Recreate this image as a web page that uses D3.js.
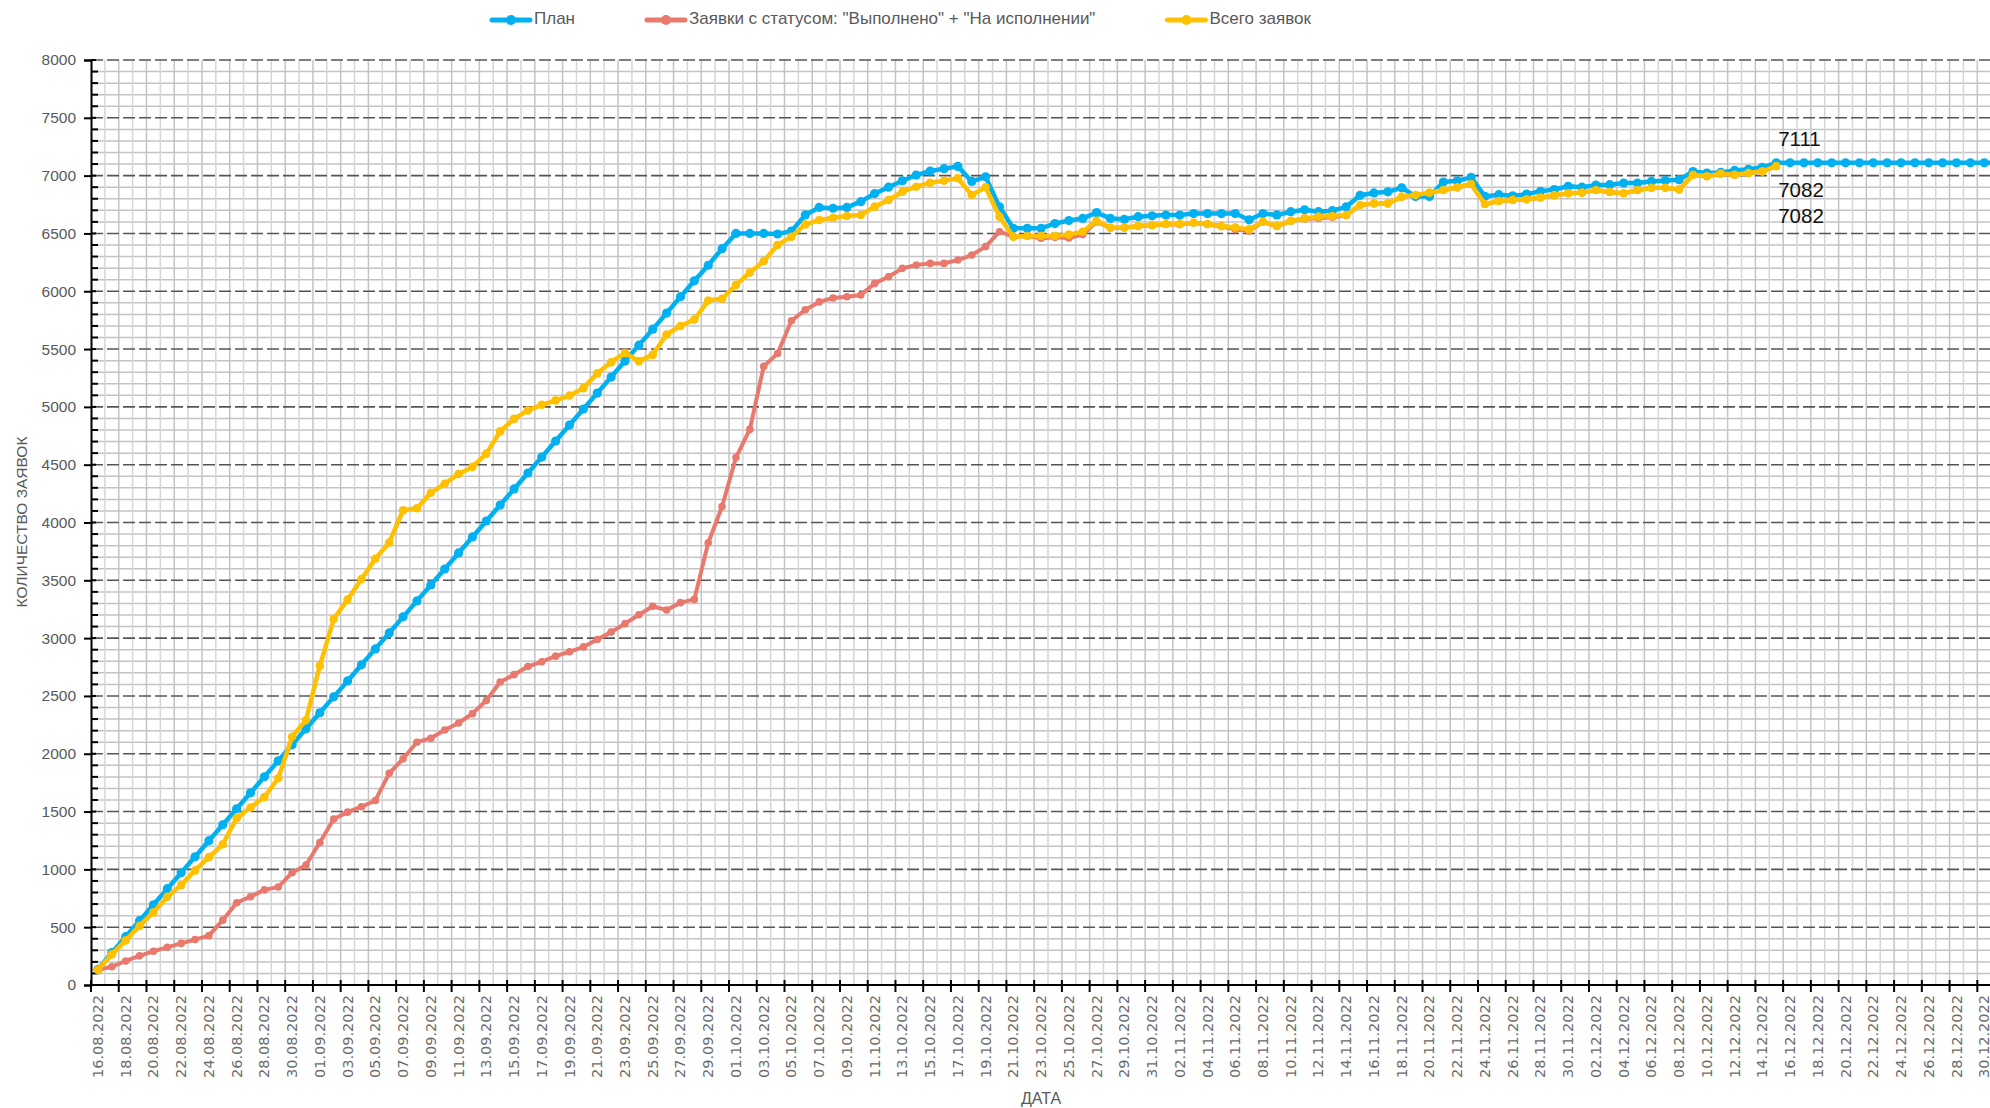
<!DOCTYPE html>
<html>
<head>
<meta charset="utf-8">
<script src="https://cdn.jsdelivr.net/npm/d3@7"></script>
<style>
    body { margin: 0; background: #fff; }
    svg { display: block; }
</style>
</head>
<body>
<svg id="chart" width="1990" height="1108"></svg>
<script>
// categories: every day from 16.08.2022 to 31.12.2022
const dates = d3.timeDay.range(new Date(2022, 7, 16), new Date(2023, 0, 1))
    .map(d3.timeFormat("%d.%m.%Y"));

const seriesNames = ["План", "Заявки с статусом: \"Выполнено\" + \"На исполнении\"", "Всего заявок"];

// План
const plan = [
    135, 280, 418, 556, 694, 833, 971, 1109, 1248, 1386,
    1524, 1662, 1801, 1939, 2077, 2216, 2354, 2492, 2630, 2769,
    2907, 3045, 3184, 3322, 3460, 3598, 3737, 3875, 4013, 4151,
    4290, 4428, 4566, 4705, 4843, 4981, 5119, 5258, 5396, 5534,
    5672, 5811, 5953, 6090, 6225, 6368, 6500, 6500, 6500, 6495,
    6520, 6660, 6725, 6718, 6725, 6775, 6845, 6900, 6955, 7005,
    7040, 7060, 7080, 6950, 6990, 6730, 6545, 6545, 6545, 6585,
    6612, 6630, 6680, 6630, 6622, 6645, 6653, 6659, 6659, 6672,
    6672, 6672, 6672, 6618, 6672, 6660, 6688, 6705, 6688, 6697,
    6730, 6830, 6850, 6860, 6895, 6820, 6820, 6945, 6955, 6985,
    6820, 6835, 6825, 6840, 6865, 6880, 6908, 6900, 6918, 6922,
    6936, 6936, 6950, 6958, 6965, 7035, 7022, 7028, 7045, 7055,
    7072, 7111, 7111, 7111, 7111, 7111, 7111, 7111, 7111, 7111,
    7111, 7111, 7111, 7111, 7111, 7111, 7111, 7111
];

// Заявки с статусом "Выполнено" + "На исполнении"
const done = [
    131, 158, 208, 252, 292, 326, 360, 393, 427, 561,
    712, 763, 823, 847, 971, 1038, 1233, 1435, 1495, 1542,
    1596, 1831, 1956, 2100, 2134, 2205, 2266, 2347, 2460, 2620,
    2684, 2754, 2796, 2844, 2882, 2924, 2988, 3052, 3125, 3202,
    3275, 3243, 3307, 3335, 3825, 4138, 4562, 4805, 5350, 5461,
    5745, 5840, 5908, 5942, 5953, 5968, 6068, 6126, 6198, 6227,
    6241, 6241, 6270, 6313, 6386, 6515, 6472, 6478, 6458, 6466,
    6460, 6490, 6600, 6548, 6550, 6562, 6570, 6578, 6578, 6590,
    6578, 6560, 6535, 6522, 6598, 6562, 6606, 6625, 6632, 6640,
    6655, 6744, 6758, 6758, 6815, 6830, 6850, 6873, 6896, 6925,
    6752, 6778, 6788, 6794, 6809, 6829, 6845, 6851, 6874, 6857,
    6845, 6874, 6893, 6893, 6879, 7005, 6992, 7015, 7006, 7021,
    7035, 7082
];

// Всего заявок
const total = [
    131, 265, 386, 511, 628, 763, 864, 991, 1106, 1217,
    1442, 1535, 1626, 1788, 2147, 2292, 2762, 3165, 3333, 3511,
    3686, 3827, 4106, 4123, 4257, 4335, 4420, 4481, 4596, 4788,
    4896, 4970, 5018, 5056, 5098, 5162, 5290, 5386, 5466, 5396,
    5450, 5626, 5700, 5755, 5920, 5935, 6055, 6162, 6260, 6400,
    6472, 6578, 6616, 6636, 6651, 6659, 6732, 6789, 6861, 6904,
    6939, 6956, 6977, 6832, 6899, 6645, 6472, 6478, 6478, 6478,
    6490, 6514, 6610, 6552, 6552, 6564, 6572, 6581, 6581, 6592,
    6581, 6564, 6552, 6535, 6601, 6564, 6610, 6630, 6645, 6650,
    6659, 6746, 6760, 6760, 6818, 6832, 6853, 6876, 6899, 6928,
    6754, 6780, 6790, 6796, 6811, 6831, 6847, 6853, 6876, 6859,
    6847, 6876, 6895, 6895, 6881, 7008, 6994, 7017, 7008, 7023,
    7037, 7082
];

const yTicks = d3.range(0, 8001, 500);

const W = 1990;
const plotLeft = 91, plotTop = 60, plotBottom = 985;
const dayW = 13.87;

const svg = d3.select("#chart");

const x = d3.scaleBand()
    .domain(dates)
    .range([plotLeft, plotLeft + dates.length * dayW]);
const y = d3.scaleLinear()
    .domain([0, 8000])
    .range([plotBottom, plotTop]);
const cx = d => x(d) + x.bandwidth() / 2;

const series = [
    { name: seriesNames[0], values: plan, color: "#00B0F0", width: 4.5, r: 4.6 },
    { name: seriesNames[1], values: done, color: "#E9786D", width: 4, r: 3.8 },
    { name: seriesNames[2], values: total, color: "#FFC000", width: 4.5, r: 4.3 }
];

const minorY = d3.range(100, 8000, 100).filter(v => v % 500 !== 0);

// minor horizontal grid (every 100)
svg.append("g")
    .selectAll("line")
    .data(minorY)
    .join("line")
    .attr("x1", plotLeft).attr("x2", W)
    .attr("y1", d => y(d)).attr("y2", d => y(d))
    .attr("stroke", "#c4c4c4")
    .attr("stroke-width", 1.5);

// vertical grid, one line per day
svg.append("g")
    .selectAll("line")
    .data(dates.slice(1))
    .join("line")
    .attr("x1", d => x(d)).attr("x2", d => x(d))
    .attr("y1", plotTop).attr("y2", plotBottom)
    .attr("stroke", (d, i) => (i % 2 === 1 ? "#c4c4c4" : "#d6d6d6"))
    .attr("stroke-width", 1.5);

// major dashed grid (every 500)
svg.append("g")
    .selectAll("line")
    .data(yTicks.slice(1))
    .join("line")
    .attr("x1", plotLeft).attr("x2", W)
    .attr("y1", d => y(d)).attr("y2", d => y(d))
    .attr("stroke", "#555")
    .attr("stroke-width", 1.6)
    .attr("stroke-dasharray", "12,4");

// Y axis
const yAxis = svg.append("g")
    .attr("transform", `translate(${plotLeft},0)`)
    .call(d3.axisLeft(y).tickValues(yTicks).tickFormat(d3.format("d")).tickSize(7).tickPadding(8));
yAxis.select(".domain").attr("stroke", "#000").attr("stroke-width", 2);
yAxis.selectAll(".tick line").attr("stroke", "#000").attr("stroke-width", 2);
yAxis.selectAll(".tick text")
    .attr("fill", "#595959")
    .style("font-family", "'Liberation Sans', Arial, sans-serif")
    .style("font-size", "15.5px");
// minor ticks on the axis
yAxis.append("g")
    .selectAll("line")
    .data(minorY)
    .join("line")
    .attr("x1", 0).attr("x2", 7)
    .attr("y1", d => y(d)).attr("y2", d => y(d))
    .attr("stroke", "#000").attr("stroke-width", 2);
yAxis.append("g")
    .selectAll("line")
    .data(yTicks)
    .join("line")
    .attr("x1", 0).attr("x2", 5)
    .attr("y1", d => y(d)).attr("y2", d => y(d))
    .attr("stroke", "#000").attr("stroke-width", 2);

// X axis
const labelDates = dates.filter((d, i) => i % 2 === 0);
svg.append("line")
    .attr("x1", plotLeft).attr("x2", W)
    .attr("y1", plotBottom).attr("y2", plotBottom)
    .attr("stroke", "#000").attr("stroke-width", 2);
svg.append("g")
    .selectAll("line")
    .data(labelDates)
    .join("line")
    .attr("x1", d => x(d)).attr("x2", d => x(d))
    .attr("y1", plotBottom - 5).attr("y2", plotBottom + 7)
    .attr("stroke", "#000").attr("stroke-width", 2);
svg.append("g")
    .selectAll("text")
    .data(labelDates)
    .join("text")
    .attr("transform", d => `translate(${cx(d) + 5},${plotBottom + 10}) rotate(-90)`)
    .attr("text-anchor", "end")
    .attr("fill", "#6b6b6b")
    .style("font-family", "'DejaVu Sans', sans-serif")
    .style("font-size", "14.5px")
    .text(d => d);

// axis titles
svg.append("text")
    .attr("x", 1041).attr("y", 1104)
    .attr("text-anchor", "middle")
    .attr("fill", "#595959")
    .style("font-family", "'Liberation Sans', Arial, sans-serif")
    .style("font-size", "16px")
    .text("ДАТА");
svg.append("text")
    .attr("transform", "translate(27,522) rotate(-90)")
    .attr("text-anchor", "middle")
    .attr("fill", "#595959")
    .style("font-family", "'Liberation Sans', Arial, sans-serif")
    .style("font-size", "15.5px")
    .text("КОЛИЧЕСТВО ЗАЯВОК");

// series
const line = d3.line()
    .x((v, i) => cx(dates[i]))
    .y(v => y(v));

series.forEach(s => {
    const g = svg.append("g");
    g.append("path")
        .datum(s.values)
        .attr("d", line)
        .attr("fill", "none")
        .attr("stroke", s.color)
        .attr("stroke-width", s.width)
        .attr("stroke-linejoin", "round");
    g.selectAll("circle")
        .data(s.values)
        .join("circle")
        .attr("cx", (v, i) => cx(dates[i]))
        .attr("cy", v => y(v))
        .attr("r", s.r)
        .attr("fill", s.color);
});

// data labels at the last reported day
const lastDay = total.length - 1;
[
    { v: plan[lastDay], dy: -22 },
    { v: total[lastDay], dy: 25 },
    { v: done[lastDay], dy: 51 }
].forEach(l => {
    svg.append("text")
        .attr("x", cx(dates[lastDay]) + 2)
        .attr("y", y(l.v) + l.dy)
        .attr("dominant-baseline", "middle")
        .attr("fill", "#111")
        .style("font-family", "'Liberation Sans', Arial, sans-serif")
        .style("font-size", "20.5px")
        .text(l.v);
});

// legend
const legend = svg.append("g").attr("transform", "translate(492,20)");
let lx = 0;
series.forEach(s => {
    const item = legend.append("g").attr("transform", `translate(${lx},0)`);
    item.append("line")
        .attr("x1", 0).attr("x2", 38)
        .attr("stroke", s.color).attr("stroke-width", 5)
        .attr("stroke-linecap", "round");
    item.append("circle").attr("cx", 19).attr("r", 5).attr("fill", s.color);
    const t = item.append("text")
        .attr("x", 42)
        .attr("dominant-baseline", "middle")
        .attr("fill", "#595959")
        .style("font-family", "'Liberation Sans', Arial, sans-serif")
        .style("font-size", "17px")
        .text(s.name);
    lx += 42 + t.node().getComputedTextLength() + 72;
});
</script>
</body>
</html>
